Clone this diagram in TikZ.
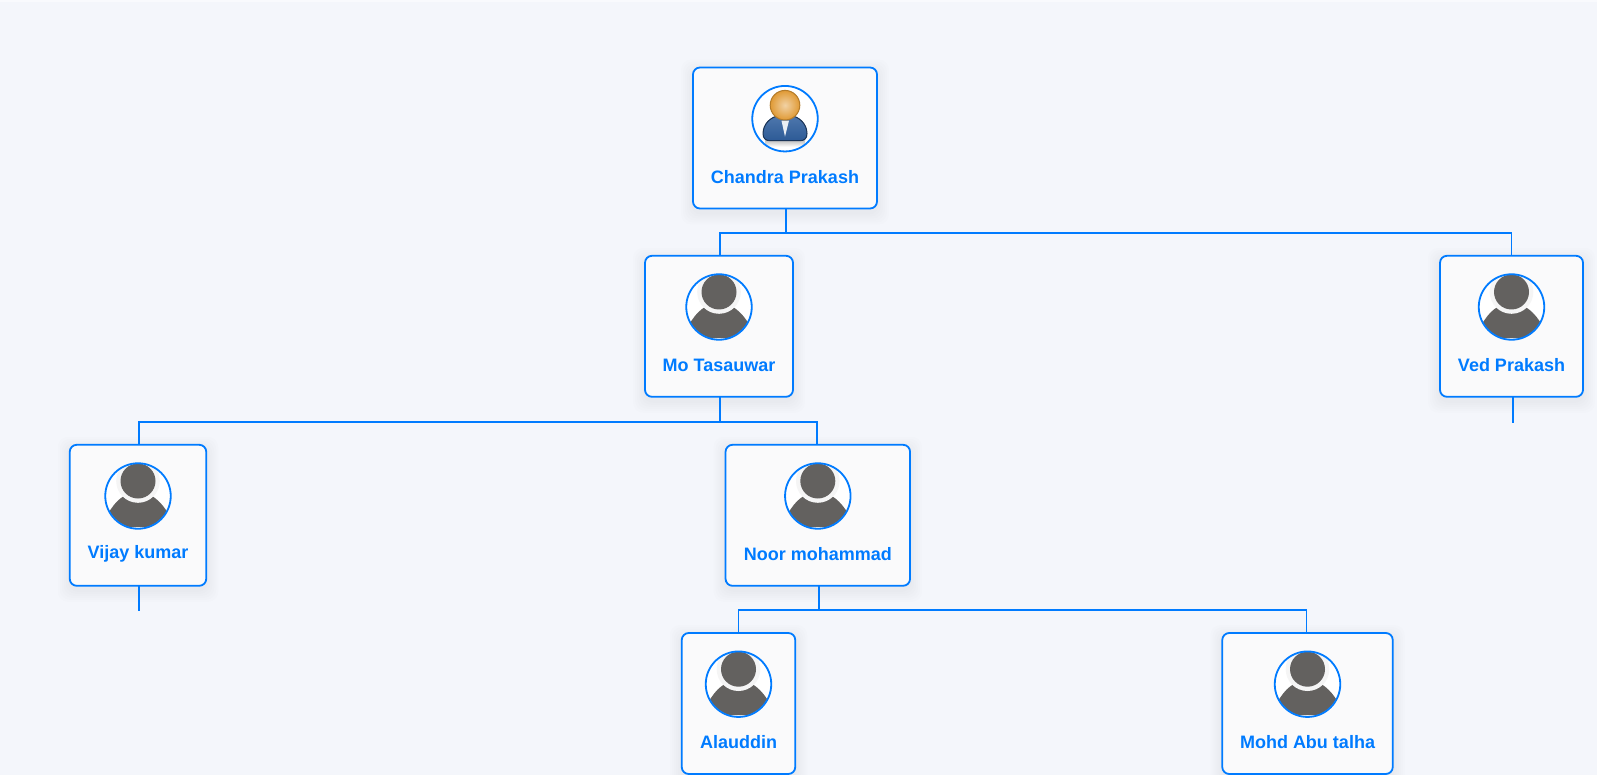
\documentclass[tikz,border=0pt]{standalone}
\usepackage{fontspec}
\setmainfont{Liberation Sans}
\usetikzlibrary{positioning,calc}
\definecolor{orgblue}{HTML}{007BFF}
\definecolor{orgback}{HTML}{F4F6FB}
\definecolor{orgcard}{HTML}{FAFAFB}
\definecolor{orgface}{HTML}{63615F}
\definecolor{orggold}{HTML}{E09A35}
\definecolor{orgsuit}{HTML}{2F5F9E}
\tikzset{
  card/.style     ={draw=orgblue, fill=orgcard, line width=1.8pt, rounded corners=7pt,
                    inner sep=0pt, outer sep=0pt, minimum height=141pt},
  cardshade/.style={fill=black, opacity=0.008, rounded corners=10pt},
  portrait/.style ={circle, draw=orgblue, line width=1.8pt, minimum size=65.5pt,
                    inner sep=0pt, outer sep=0pt},
  cardname/.style ={font=\fontsize{18}{21}\selectfont\bfseries, text=orgblue, inner sep=0pt},
  orglink/.style  ={draw=orgblue, line width=1.8pt},
}
\newcommand{\plainface}[1]{%
  \begin{scope}[shift={(facecentre#1)}]
    \clip (0,0) circle (32.2);
    \fill[white] (0,0) circle (32.2);
    \fill[orgface] (-32,20) -- (-27,13) .. controls (-23,7) and (-19,3) .. (-14,0) -- (14,0)
      .. controls (19,3) and (24,8) .. (28,14) -- (32,20) -- (32,31) -- (-32,31) -- cycle;
    \fill[white!96!black] (0,-15) circle (21.8);
    \fill[orgface] (0,-15) circle (17.5);
  \end{scope}}
\newcommand{\suitface}[1]{%
  \begin{scope}[shift={(facecentre#1)}]
    \fill[white] (0,0) circle (32.2);
    \shade[top color=gray!55, bottom color=white] (-20,21) rectangle (20,28);
    \fill[draw=orgsuit!55!black, line width=1pt, top color=orgsuit!85, bottom color=orgsuit!95!black]
      (-22,15) .. controls (-22,5) and (-14,-2) .. (-6,-3) -- (6,-3)
      .. controls (14,-2) and (22,5) .. (22,15) .. controls (22,20) and (19,22) .. (15,22)
      -- (-15,22) .. controls (-19,22) and (-22,20) .. (-22,15) -- cycle;
    \fill[white!90!orgsuit] (-3.5,2) -- (4,2) -- (0,18) -- cycle;
    \shade[inner color=orggold!45!white, outer color=orggold, draw=orggold!80!black, line width=1pt]
      (0,-13.5) circle (14.8);
  \end{scope}}
% id, centre x, centre y, width, label, face
\newcommand{\personcard}[6]{%
  \foreach \grow in {12,10,8,6,4,2}{
    \fill[cardshade] ($(#2,#3+4)+(-#4/2-\grow,-70.5-\grow)$) rectangle ($(#2,#3+4)+(#4/2+\grow,70.5+\grow)$);}
  \node[card, minimum width=#4pt] (#1) at (#2,#3) {};
  \coordinate (facecentre#1) at (#2,#3-19.3);
  #6{#1}
  \node[portrait] (portrait#1) at (facecentre#1) {};
  \node[cardname] (name#1) at (#2,#3+39) {#5};}

\begin{document}
\begin{tikzpicture}[x=1pt,y=-1pt]
  \useasboundingbox (0,0) rectangle (1597,775);
  \fill[orgback] (0,0) rectangle (1597,775);
  \fill[white!50!orgback] (0,0) rectangle (1597,2);

  \personcard{root}{785}{138}{184}{Chandra Prakash}{\suitface}
  \personcard{tasauwar}{719}{326.3}{148}{Mo Tasauwar}{\plainface}
  \personcard{ved}{1511.5}{326.3}{143}{Ved Prakash}{\plainface}
  \personcard{vijay}{138}{515.3}{136.5}{Vijay kumar}{\plainface}
  \personcard{noor}{817.8}{515.3}{184.5}{Noor mohammad}{\plainface}
  \personcard{alauddin}{738.5}{703.5}{113.5}{Alauddin}{\plainface}
  \personcard{abutalha}{1307.5}{703.5}{170.5}{Mohd Abu talha}{\plainface}

  \coordinate (joinroot) at (786,233);
  \coordinate (jointasauwar) at (720,422);
  \coordinate (joinnoor) at (819,610);
  \coordinate (stubved) at (1513,422.5);
  \coordinate (stubvijay) at (139,611);

  \draw[orglink] (root.south -| joinroot) -- (joinroot);
  \draw[orglink] ([xshift=1pt]tasauwar.north) |- (joinroot) -| (ved.north);
  \draw[orglink] (tasauwar.south -| jointasauwar) -- (jointasauwar);
  \draw[orglink] ([xshift=1pt]vijay.north) |- (jointasauwar) -| ([xshift=-1pt]noor.north);
  \draw[orglink] (noor.south -| joinnoor) -- (joinnoor);
  \draw[orglink] (alauddin.north) |- (joinnoor) -| ([xshift=-1pt]abutalha.north);
  \draw[orglink] (ved.south -| stubved) -- (stubved);
  \draw[orglink] (vijay.south -| stubvijay) -- (stubvijay);
\end{tikzpicture}
\end{document}
